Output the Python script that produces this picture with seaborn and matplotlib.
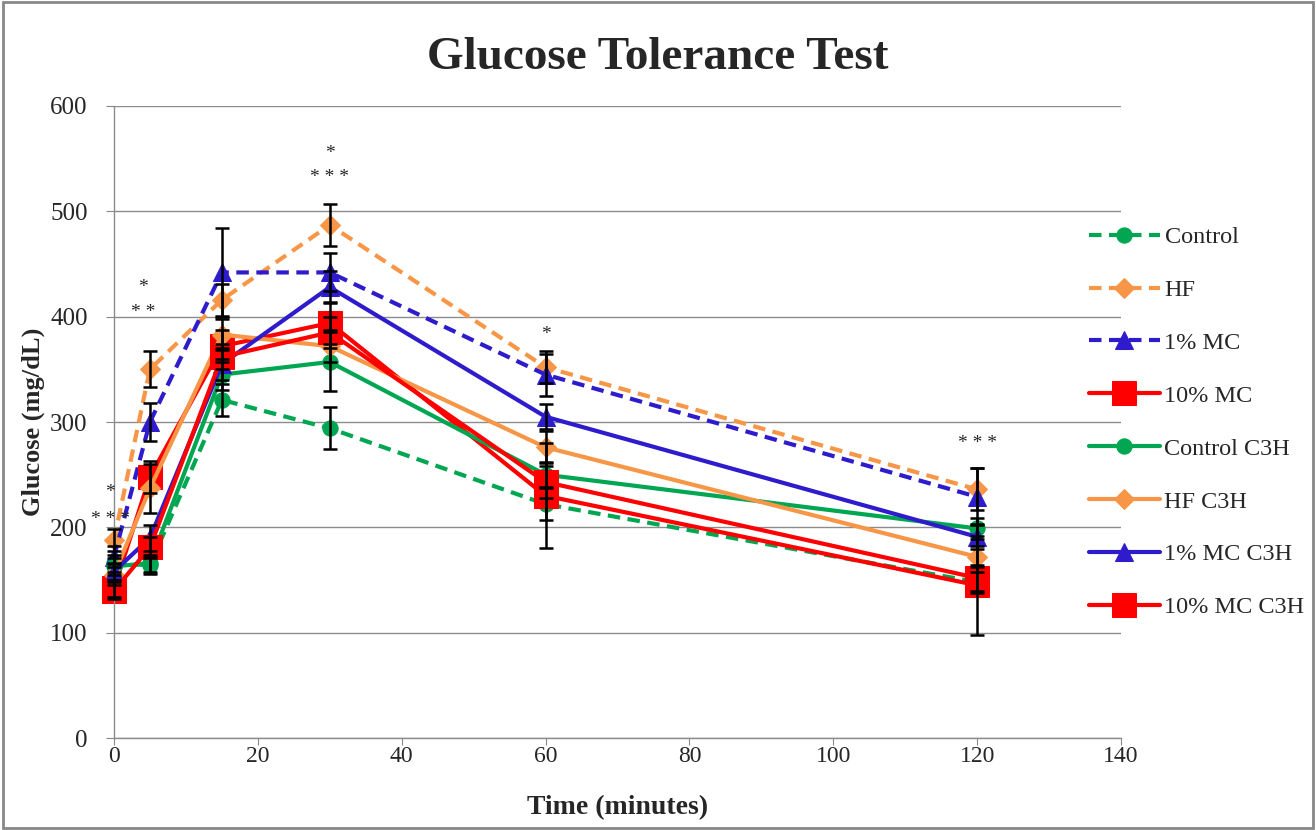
import numpy as np
import pandas as pd
import matplotlib
matplotlib.use('Agg')
import matplotlib.pyplot as plt
import seaborn as sns
from matplotlib.patches import Rectangle

# data
time = [0, 5, 15, 30, 60, 120]
labels = ['Control', 'HF', '1% MC', '10% MC', 'Control C3H', 'HF C3H', '1% MC C3H', '10% MC C3H']

control = [166, 164, 321, 294, 222, 148]
hf = [188, 350, 416, 487, 352, 236]
mc1 = [172, 300, 442, 442, 345, 229]
mc10 = [142, 248, 372, 394, 230, 145]
control_c3h = [163, 166, 345, 357, 250, 199]
hf_c3h = [155, 237, 383, 372, 276, 172]
mc1_c3h = [158, 190, 355, 428, 305, 191]
mc10_c3h = [140, 181, 362, 385, 243, 152]

control_err = [8, 8, 15, 20, 15, 10]
hf_err = [10, 17, 15, 20, 15, 20]
mc1_err = [10, 18, 42, 18, 20, 27]
mc10_err = [8, 15, 15, 20, 50, 47]
control_c3h_err = [8, 8, 15, 28, 12, 10]
hf_c3h_err = [10, 23, 15, 15, 15, 10]
mc1_c3h_err = [8, 12, 15, 15, 12, 12]
mc10_c3h_err = [8, 10, 12, 15, 15, 12]

stars = [(-0.5, 233, '*'), (-0.5, 207, '***'), (4, 428, '*'), (4, 404, '**'),
         (30, 555, '*'), (30, 532, '***'), (60, 383, '*'), (120, 280, '***')]

values = [control, hf, mc1, mc10, control_c3h, hf_c3h, mc1_c3h, mc10_c3h]
errors = [control_err, hf_err, mc1_err, mc10_err, control_c3h_err, hf_c3h_err, mc1_c3h_err, mc10_c3h_err]

# -----------------------------
# styles
# -----------------------------
green = '#00A651'
orange = '#F79646'
blue = '#2E1CCC'
red = '#FF0000'
dash = (0, (3, 1.8))
colors = [green, orange, blue, red, green, orange, blue, red]
styles = [dash, dash, dash, '-', '-', '-', '-', '-']
markers = ['o', 'D', '^', 's', 'o', 'D', '^', 's']
msizes = [11, 10, 13, 17, 11, 10, 13, 17]

sns.set_style('white')
plt.rcParams['font.family'] = ['Liberation Serif', 'DejaVu Serif']

fig = plt.figure(figsize=(13.16, 8.3), dpi=100)
ax = fig.add_axes([0.0866, 0.1108, 0.7652, 0.7615])

for vals, err, lab, c, ls, m, ms in zip(values, errors, labels, colors, styles, markers, msizes):
    sns.lineplot(x=time, y=vals, ax=ax, color=c, linestyle=ls, linewidth=3,
                 marker=m, markersize=ms, markeredgecolor=c, label=lab, clip_on=False)
    ax.errorbar(time, vals, yerr=err, fmt='none', ecolor='black', elinewidth=1.8,
                capsize=5, capthick=1.8, zorder=5, clip_on=False)

# significance marks, letter-spaced like the original
for x, y, s in stars:
    ax.text(x, y, ' '.join(s), ha='center', va='center', fontsize=14)

ax.set_xlim(0, 140)
ax.set_ylim(0, 600)
ax.set_xticks(range(0, 141, 20))
ax.set_yticks(range(0, 601, 100))
ax.tick_params(axis='x', labelsize=17, length=5, pad=1, color='#888888', direction='out', bottom=True)
ax.tick_params(axis='y', labelsize=18, length=6, pad=13, color='#888888', direction='out', left=True)
ax.yaxis.grid(True, color='#8c8c8c', linewidth=1)
ax.xaxis.grid(False)
ax.set_axisbelow(True)
for side in ['top', 'right']:
    ax.spines[side].set_visible(False)
for side in ['left', 'bottom']:
    ax.spines[side].set_color('#8c8c8c')
    ax.spines[side].set_linewidth(1)

ax.set_xlabel('Time (minutes)', fontsize=20, fontweight='bold', labelpad=20)
ax.set_ylabel('Glucose (mg/dL)', fontsize=19, fontweight='bold', labelpad=4)
fig.text(0.5, 0.93, 'Glucose Tolerance Test', ha='center', va='center',
         fontsize=34, fontweight='bold')

ax.legend(loc='upper left', bbox_to_anchor=(1077 / 1316, 1 - 214 / 830),
          bbox_transform=fig.transFigure, frameon=False, fontsize=17.5,
          handlelength=2.9, labelspacing=1.27, borderpad=0, handletextpad=0.2)

fig.patches.append(Rectangle((0.002, 0.002), 0.996, 0.996, transform=fig.transFigure,
                             fill=False, edgecolor='#888888', linewidth=2))

plt.savefig('out.png', dpi=100)
plt.close()
